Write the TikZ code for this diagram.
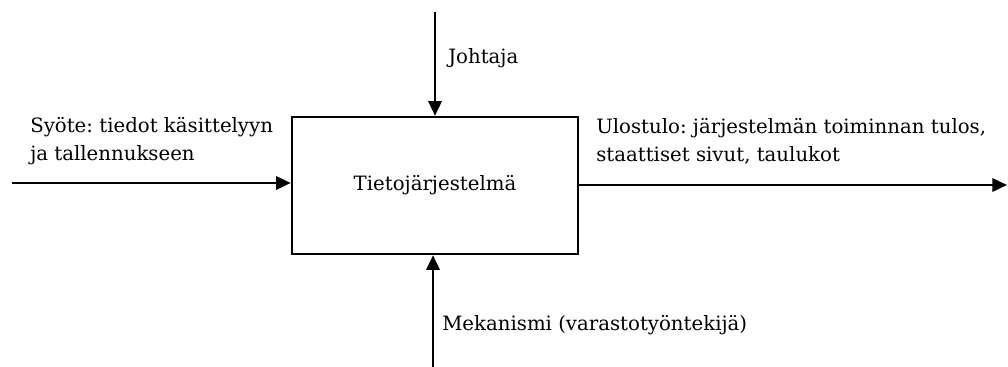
\documentclass[tikz,border=0pt]{standalone}
\usepackage{fontspec}
\setmainfont{DejaVu Serif}
\usetikzlibrary{arrows.meta}
\frenchspacing
\begin{document}
\begin{tikzpicture}[x=0.75pt,y=-0.75pt,
  flow/.style={line width=1.9pt,-{Triangle[length=11pt,width=10pt]}},
  label/.style={font=\fontsize{14.8pt}{21pt}\selectfont,inner sep=0pt,align=left},
  sysbox/.style={draw,line width=1.9pt,minimum width=214.5pt,minimum height=102.75pt,
    inner sep=0pt,font=\fontsize{14.8pt}{18pt}\selectfont}]
  \useasboundingbox (0,0) rectangle (1008,367);
  % central function box
  \node[sysbox] (sys) at (435,185.5) {Tietojärjestelmä};
  % free ends of the connectors
  \coordinate (ctl) at (435,12);
  \coordinate (mech) at (433,367);
  \coordinate (inp) at (12,183);
  \coordinate (outp) at (1007,185);
  % connectors
  \draw[flow] (ctl) -- (sys.north);
  \draw[flow] (mech) -- (mech |- sys.south);
  \draw[flow] (inp) -- (inp -| sys.west);
  \draw[flow] (outp -| sys.east) -- (outp);
  % labels
  \node[label,anchor=west] (lctl) at (448,58) {Johtaja};
  \node[label,anchor=west] (lmech) at (442,325) {Mekanismi (varastotyöntekijä)};
  \node[label,anchor=west] (linp) at (30,141) {Syöte: tiedot käsittelyyn\\ja tallennukseen};
  \node[label,anchor=west] (loutp) at (596,141) {Ulostulo: järjestelmän toiminnan tulos,\\staattiset sivut, taulukot};
\end{tikzpicture}
\end{document}
